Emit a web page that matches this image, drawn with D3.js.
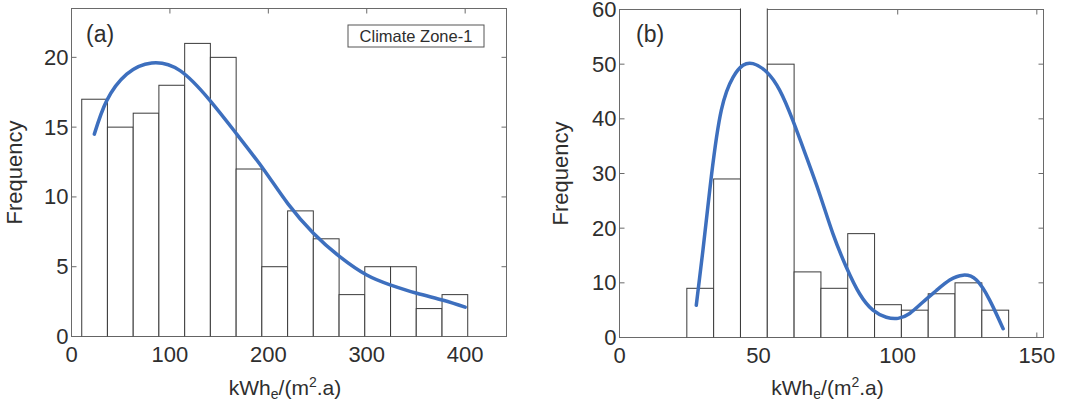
<!DOCTYPE html>
<html>
<head>
<meta charset="utf-8">
<script src="https://cdn.jsdelivr.net/npm/d3@7"></script>
<style>
  body { margin: 0; background: #fff; }
  svg { display: block; }
  text { font-family: Arial, "Liberation Sans", sans-serif; fill: #2e2e2e; }
</style>
</head>
<body>
<svg id="chart" width="1069" height="406"></svg>
<script>
// ---------- Data: panel (a) ----------
const binEdgesA = [10.4, 36.5, 62.7, 88.8, 115.0, 141.1, 167.3, 193.4, 219.6, 245.7, 271.9, 298.0, 324.2, 350.3, 376.5, 402.6];
const countsA   = [17, 15, 16, 18, 21, 20, 12, 5, 9, 7, 3, 5, 5, 2, 3];
const curveAx   = [23.2, 35.8, 56.1, 81.5, 110.3, 140.8, 167.9, 194.9, 220.0, 245.8, 272.9, 300, 323.7, 350.8, 377.8, 400];
const curveAy   = [14.5, 16.9, 18.8, 19.6, 19.05, 16.9, 14.5, 12.0, 9.5, 7.4, 5.7, 4.4, 3.7, 3.1, 2.6, 2.1];
const xTicksA   = [0, 100, 200, 300, 400];
const yTicksA   = [0, 5, 10, 15, 20];

// ---------- Data: panel (b) ----------
const binEdgesB = [24.2, 33.84, 43.48, 53.12, 62.76, 72.4, 82.04, 91.68, 101.32, 110.96, 120.6, 130.24, 139.88];
const countsB   = [9, 29, 75, 50, 12, 9, 19, 6, 5, 8, 10, 5];
const curveBx   = [27.6, 30.0, 33.0, 36.6, 40.8, 44.4, 48.0, 52.8, 57.6, 62.3, 67.2, 71.9, 76.7, 81.5, 86.3, 91.1, 95.9, 100.1, 104.3, 109.1, 113.9, 118.7, 123.5, 128.3, 133.1, 137.9];
const curveBy   = [5.9, 16.0, 29.4, 41.6, 47.6, 49.8, 50.1, 48.6, 45.2, 39.7, 33.0, 26.3, 19.0, 12.9, 8.0, 5.0, 3.7, 3.5, 4.4, 6.5, 8.6, 10.5, 11.4, 10.5, 6.8, 1.6];
const xTicksB   = [0, 50, 100, 150];
const yTicksB   = [0, 10, 20, 30, 40, 50, 60];

const svg = d3.select("#chart");

function panel(cfg) {
  const x = d3.scaleLinear().domain(cfg.xDomain).range([cfg.left, cfg.right]);
  const y = d3.scaleLinear().domain(cfg.yDomain).range([cfg.bottom, cfg.top]);
  const g = svg.append("g");
  const w = cfg.right - cfg.left, h = cfg.bottom - cfg.top;

  // frame
  g.append("rect").attr("x", cfg.left).attr("y", cfg.top).attr("width", w).attr("height", h)
    .attr("fill", "none").attr("stroke", "#6a6a6a").attr("stroke-width", 1);

  // ticks inside on all four sides
  const tl = 5;
  cfg.xTicks.forEach(t => {
    g.append("line").attr("x1", x(t)).attr("x2", x(t)).attr("y1", cfg.bottom).attr("y2", cfg.bottom - tl).attr("stroke", "#6a6a6a");
    g.append("line").attr("x1", x(t)).attr("x2", x(t)).attr("y1", cfg.top).attr("y2", cfg.top + tl).attr("stroke", "#6a6a6a");
  });
  cfg.yTicks.forEach(t => {
    g.append("line").attr("x1", cfg.left).attr("x2", cfg.left + tl).attr("y1", y(t)).attr("y2", y(t)).attr("stroke", "#6a6a6a");
    g.append("line").attr("x1", cfg.right).attr("x2", cfg.right - tl).attr("y1", y(t)).attr("y2", y(t)).attr("stroke", "#6a6a6a");
  });

  // clip (slightly above top so clipped bars hide top border like reference)
  const clipId = "clip" + cfg.id;
  svg.append("defs").append("clipPath").attr("id", clipId)
    .append("rect").attr("x", cfg.left).attr("y", cfg.top - 1).attr("width", w).attr("height", h + 1);

  const bars = g.append("g").attr("clip-path", `url(#${clipId})`);
  bars.selectAll("rect").data(cfg.counts).join("rect")
    .attr("x", (d, i) => x(cfg.edges[i]))
    .attr("width", (d, i) => x(cfg.edges[i + 1]) - x(cfg.edges[i]))
    .attr("y", d => y(d))
    .attr("height", d => y(0) - y(d))
    .attr("fill", "#fff").attr("stroke", "#3a3a3a").attr("stroke-width", 1);

  // curve
  const pts = cfg.cx.map((v, i) => [v, cfg.cy[i]]);
  g.append("path").datum(pts)
    .attr("d", d3.line().x(d => x(d[0])).y(d => y(d[1])).curve(d3.curveNatural))
    .attr("fill", "none").attr("stroke", "#3d6fbe").attr("stroke-width", 3.5)
    .attr("stroke-linecap", "round");

  // tick labels
  g.selectAll(".xl").data(cfg.xTicks).join("text")
    .attr("x", d => x(d)).attr("y", cfg.bottom + 25)
    .attr("text-anchor", "middle").attr("font-size", 22).text(d => d);
  g.selectAll(".yl").data(cfg.yTicks).join("text")
    .attr("x", cfg.left - 3).attr("y", d => y(d) + 7.5)
    .attr("text-anchor", "end").attr("font-size", 22).text(d => d);

  // axis titles
  g.append("text").attr("transform", `translate(${cfg.ylabX},${(cfg.top + cfg.bottom) / 2}) rotate(-90)`)
    .attr("text-anchor", "middle").attr("font-size", 22).text("Frequency");
  const xt = g.append("text").attr("x", (cfg.left + cfg.right) / 2 - 4).attr("y", 395)
    .attr("text-anchor", "middle").attr("font-size", 21);
  xt.append("tspan").text("kWh");
  xt.append("tspan").attr("font-size", 14).attr("dy", 4).text("e");
  xt.append("tspan").attr("dy", -4).text("/(m");
  xt.append("tspan").attr("font-size", 14).attr("dy", -8).text("2");
  xt.append("tspan").attr("dy", 8).text(".a)");

  // panel letter
  g.append("text").attr("x", cfg.letterX).attr("y", 42).attr("font-size", 23).text(cfg.letter);
  return { g, x, y };
}

const A = panel({
  id: "a", xDomain: [0, 442], yDomain: [0, 23.5],
  left: 71.5, right: 506.5, top: 8.5, bottom: 336.5,
  edges: binEdgesA, counts: countsA, cx: curveAx, cy: curveAy,
  xTicks: xTicksA, yTicks: yTicksA, ylabX: 22, letter: "(a)", letterX: 86
});

// legend box
A.g.append("rect").attr("x", 348).attr("y", 25).attr("width", 136).attr("height", 22)
  .attr("fill", "#fff").attr("stroke", "#555").attr("stroke-width", 1);
A.g.append("text").attr("x", 416).attr("y", 42).attr("text-anchor", "middle")
  .attr("font-size", 16.5).text("Climate Zone-1");

panel({
  id: "b", xDomain: [0, 152.4], yDomain: [0, 60],
  left: 619.5, right: 1043.5, top: 9.5, bottom: 337.5,
  edges: binEdgesB, counts: countsB, cx: curveBx, cy: curveBy,
  xTicks: xTicksB, yTicks: yTicksB, ylabX: 568, letter: "(b)", letterX: 636
});
</script>
</body>
</html>
